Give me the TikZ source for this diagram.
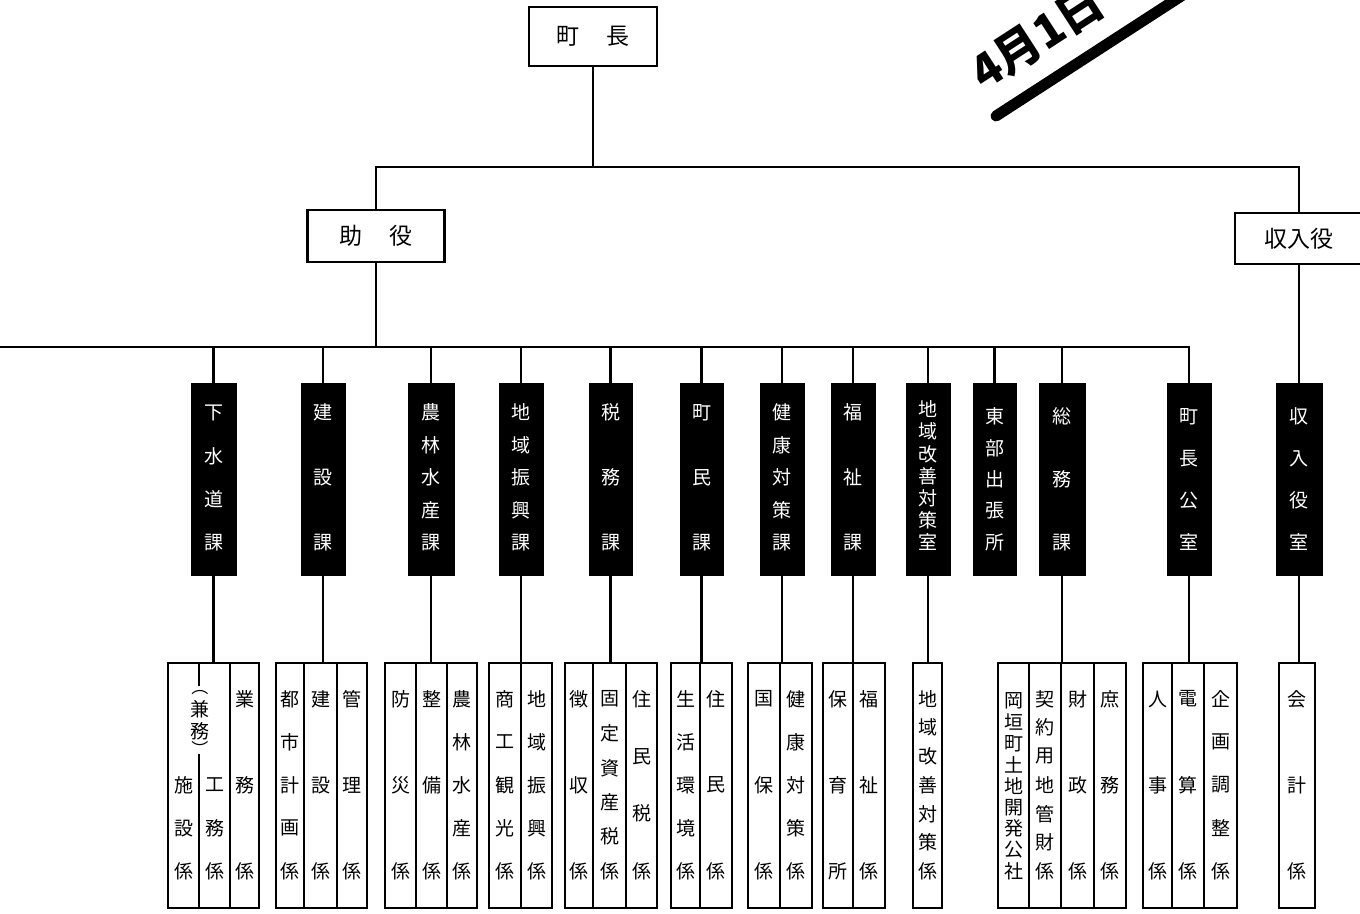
\documentclass[tikz,border=0pt]{standalone}
\usepackage{fontspec}
\setmainfont{Noto Sans CJK JP}
\usetikzlibrary{calc}
\tikzset{
  conn/.style={line width=2.2pt},
  topbox/.style={draw, line width=2.2pt, inner sep=0pt, font=\fontsize{23}{23}\selectfont},
  dbox/.style={fill=black, draw=black, line width=1pt, minimum height=192pt, inner sep=0pt},
  dtxt/.style={text=white, font=\fontsize{19}{19}\selectfont, inner sep=0pt},
  scol/.style={draw, line width=1.8pt, minimum height=245pt, inner sep=0pt},
  stxt/.style={font=\fontsize{19}{19}\selectfont, inner sep=0pt},
  ptxt/.style={font=\fontsize{17}{17}\selectfont, inner sep=0pt},
  stamptxt/.style={font=\bfseries\fontsize{46}{46}\selectfont, inner sep=0pt},
}
\newcommand{\dbx}[3]{\node[dbox, minimum width={#3-#2}] (#1) at ({(#2+#3)/2},479) {};}
\newcommand{\scolumn}[3]{\node[scol, minimum width={#3-#2}] (#1) at ({(#2+#3)/2},785.5) {};}
\newcommand{\vchars}[6]{%
  \foreach \c [count=\i] in {#6}{%
    \node[#1] (#2-\i) at ($(#2.north)+(0,{#4+(\i-1)*(#5)/(#3-1)})$) {\c};}}
\begin{document}
\begin{tikzpicture}[x=1pt,y=-1pt]
\useasboundingbox (0,0) rectangle (1360,913);
\fill[white] (0,0) rectangle (1360,913);
\clip (0,0) rectangle (1360,913);

% stamp
\draw[line width=11pt, line cap=round] (996,116) -- (1206,-20);
\node[stamptxt, rotate=33, anchor=base west] (stamp) at (984,92) {4月1日};

% top level
\node[topbox, minimum width=128pt, minimum height=59pt] (chocho) at (593,36.5) {町\hspace{27pt}長};
\node[topbox, minimum width=137pt, minimum height=52pt] (joyaku) at (376,236) {助\hspace{27pt}役};
\node[topbox, minimum width=128pt, minimum height=51pt] (shunyuyaku) at (1299,238.5) {収入役};
\coordinate (busA) at (593,167);
\coordinate (busB) at (0,347);

% departments
\dbx{gesui}{191}{236}
\dbx{kensetsu}{301}{345}
\dbx{norin}{408}{454}
\dbx{shinko}{499}{543}
\dbx{zeimu}{589}{632}
\dbx{chomin}{680}{723}
\dbx{kenko}{760}{804}
\dbx{fukushi}{831}{875}
\dbx{kaizen}{906}{950}
\dbx{tobu}{973}{1016}
\dbx{somu}{1039}{1085}
\dbx{kocho}{1167}{1211}
\dbx{shunyu}{1276}{1322}

\vchars{dtxt}{gesui}{4}{30}{130}{下,水,道,課}
\vchars{dtxt}{kensetsu}{3}{30}{130}{建,設,課}
\vchars{dtxt}{norin}{5}{30}{130}{農,林,水,産,課}
\vchars{dtxt}{shinko}{5}{30}{130}{地,域,振,興,課}
\vchars{dtxt}{zeimu}{3}{30}{130}{税,務,課}
\vchars{dtxt}{chomin}{3}{30}{130}{町,民,課}
\vchars{dtxt}{kenko}{5}{30}{130}{健,康,対,策,課}
\vchars{dtxt}{fukushi}{3}{30}{130}{福,祉,課}
\vchars{dtxt}{kaizen}{7}{27}{133}{地,域,改,善,対,策,室}
\vchars{dtxt}{tobu}{5}{34}{126}{東,部,出,張,所}
\vchars{dtxt}{somu}{3}{34}{126}{総,務,課}
\vchars{dtxt}{kocho}{4}{34}{126}{町,長,公,室}
\vchars{dtxt}{shunyu}{4}{34}{126}{収,入,役,室}

% sections
\scolumn{g1a}{168}{199}\scolumn{g1b}{199}{230}\scolumn{g1c}{230}{259}
\scolumn{g2a}{276}{304}\scolumn{g2b}{304}{337}\scolumn{g2c}{337}{367}
\scolumn{g3a}{385}{416}\scolumn{g3b}{416}{447}\scolumn{g3c}{447}{477}
\scolumn{g4a}{489}{521}\scolumn{g4b}{521}{552}
\scolumn{g5a}{565}{593}\scolumn{g5b}{593}{626}\scolumn{g5c}{626}{657}
\scolumn{g6a}{671}{700}\scolumn{g6b}{700}{732}
\scolumn{g7a}{748}{780}\scolumn{g7b}{780}{812}
\scolumn{g8a}{823}{853}\scolumn{g8b}{853}{885}
\scolumn{g9a}{913}{942}
\scolumn{g10a}{998}{1029}\scolumn{g10b}{1029}{1061}\scolumn{g10c}{1061}{1094}\scolumn{g10d}{1094}{1126}
\scolumn{g11a}{1143}{1172}\scolumn{g11b}{1172}{1204}\scolumn{g11c}{1204}{1237}
\scolumn{g12a}{1279}{1315}

% section texts
\node[stxt] (g1a-1) at ($(g1a.north)+(0,123)$) {施};
\node[stxt] (g1a-2) at ($(g1a.north)+(0,166)$) {設};
\node[stxt] (g1a-3) at ($(g1a.north)+(0,209)$) {係};
\node[stxt] (g1b-1) at ($(g1b.north)+(0,123)$) {工};
\node[stxt] (g1b-2) at ($(g1b.north)+(0,166)$) {務};
\node[stxt] (g1b-3) at ($(g1b.north)+(0,209)$) {係};
\fill[white] ($(g1a.north east)+(-3,24)$) rectangle ($(g1a.north east)+(3,92)$);
\node[ptxt] (kenmu-1) at ($(g1a.north east)+(0,30)$) {︵};
\node[stxt] (kenmu-2) at ($(g1a.north east)+(0,47)$) {兼};
\node[stxt] (kenmu-3) at ($(g1a.north east)+(0,69)$) {務};
\node[ptxt] (kenmu-4) at ($(g1a.north east)+(0,86)$) {︶};
\vchars{stxt}{g1c}{3}{37}{172}{業,務,係}
\vchars{stxt}{g2a}{5}{37}{172}{都,市,計,画,係}
\vchars{stxt}{g2b}{3}{37}{172}{建,設,係}
\vchars{stxt}{g2c}{3}{37}{172}{管,理,係}
\vchars{stxt}{g3a}{3}{37}{172}{防,災,係}
\vchars{stxt}{g3b}{3}{37}{172}{整,備,係}
\vchars{stxt}{g3c}{5}{37}{172}{農,林,水,産,係}
\vchars{stxt}{g4a}{5}{37}{172}{商,工,観,光,係}
\vchars{stxt}{g4b}{5}{37}{172}{地,域,振,興,係}
\vchars{stxt}{g5a}{3}{37}{172}{徴,収,係}
\vchars{stxt}{g5b}{6}{37}{172}{固,定,資,産,税,係}
\vchars{stxt}{g5c}{4}{37}{172}{住,民,税,係}
\vchars{stxt}{g6a}{5}{37}{172}{生,活,環,境,係}
\vchars{stxt}{g6b}{3}{37}{172}{住,民,係}
\vchars{stxt}{g7a}{3}{37}{172}{国,保,係}
\vchars{stxt}{g7b}{5}{37}{172}{健,康,対,策,係}
\vchars{stxt}{g8a}{3}{37}{172}{保,育,所}
\vchars{stxt}{g8b}{3}{37}{172}{福,祉,係}
\vchars{stxt}{g9a}{7}{37}{172}{地,域,改,善,対,策,係}
\vchars{stxt}{g10a}{9}{39}{170}{岡,垣,町,土,地,開,発,公,社}
\vchars{stxt}{g10b}{7}{37}{172}{契,約,用,地,管,財,係}
\vchars{stxt}{g10c}{3}{37}{172}{財,政,係}
\vchars{stxt}{g10d}{3}{37}{172}{庶,務,係}
\vchars{stxt}{g11a}{3}{37}{172}{人,事,係}
\vchars{stxt}{g11b}{3}{37}{172}{電,算,係}
\vchars{stxt}{g11c}{5}{37}{172}{企,画,調,整,係}
\vchars{stxt}{g12a}{3}{37}{172}{会,計,係}

% connectors
\draw[conn] (chocho.south) -- (busA);
\draw[conn] (joyaku.north) -- (joyaku.north |- busA) -- (shunyu.north |- busA) -- (shunyu.north |- shunyuyaku.north);
\draw[conn] (joyaku.south) -- (joyaku.south |- busB);
\draw[conn] (busB) -- (kocho.north |- busB) -- (kocho.north);
\foreach \d in {gesui,kensetsu,norin,shinko,zeimu,chomin,kenko,fukushi,kaizen,tobu,somu}
  \draw[conn] (\d.north |- busB) -- (\d.north);
\draw[conn] (shunyu.north |- shunyuyaku.south) -- (shunyu.north);
\foreach \d/\s in {gesui/g1b,kensetsu/g2b,norin/g3b,shinko/g4b,zeimu/g5b,chomin/g6b,kenko/g7b,fukushi/g8b,kaizen/g9a,somu/g10c,kocho/g11b,shunyu/g12a}
  \draw[conn] (\d.south) -- (\d.south |- \s.north);
\end{tikzpicture}
\end{document}
